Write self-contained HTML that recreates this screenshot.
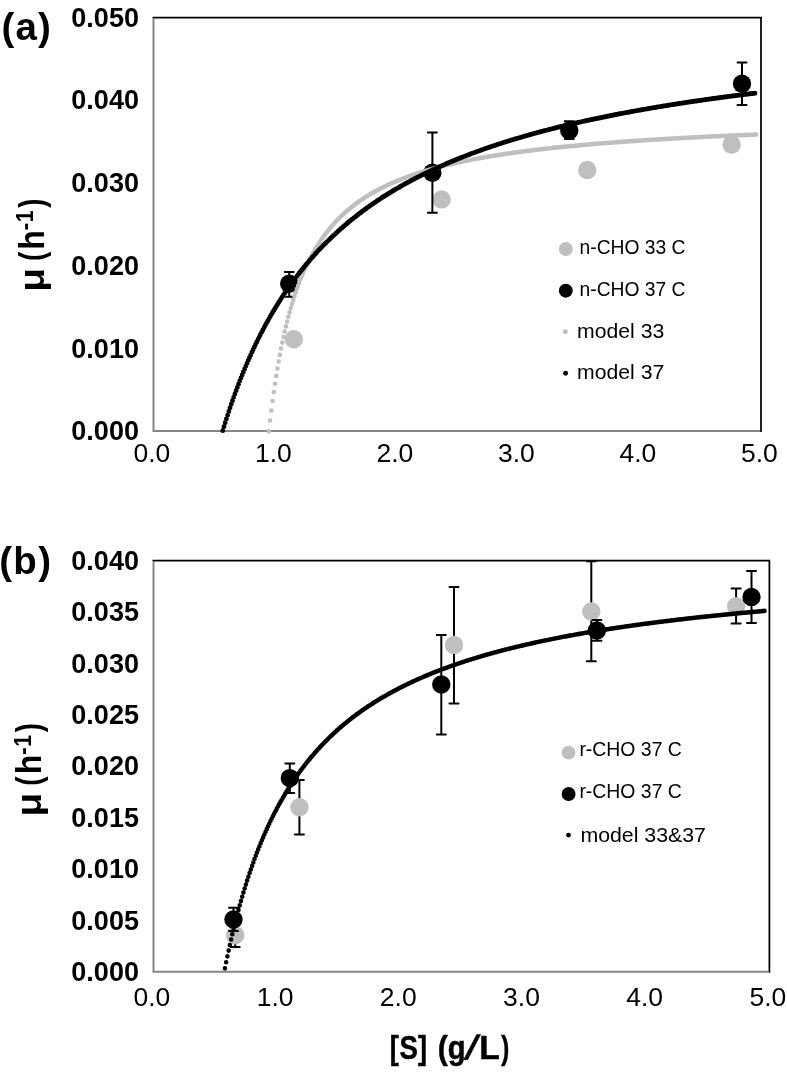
<!DOCTYPE html><html><head><meta charset="utf-8"><title>Growth rate vs substrate</title><style>html,body{margin:0;padding:0;background:#fff;}body{width:787px;height:1072px;overflow:hidden;}svg{display:block;will-change:transform;font-family:"Liberation Sans", sans-serif;}text{fill:#000;}</style></head><body><svg width="787" height="1072" viewBox="0 0 787 1072"><text transform="translate(139.00 440.21) scale(1.0100 1)" font-size="26.80" font-weight="bold" text-anchor="end">0.000</text><text transform="translate(139.00 357.51) scale(1.0100 1)" font-size="26.80" font-weight="bold" text-anchor="end">0.010</text><text transform="translate(139.00 274.81) scale(1.0100 1)" font-size="26.80" font-weight="bold" text-anchor="end">0.020</text><text transform="translate(139.00 192.11) scale(1.0100 1)" font-size="26.80" font-weight="bold" text-anchor="end">0.030</text><text transform="translate(139.00 109.41) scale(1.0100 1)" font-size="26.80" font-weight="bold" text-anchor="end">0.040</text><text transform="translate(139.00 26.71) scale(1.0100 1)" font-size="26.80" font-weight="bold" text-anchor="end">0.050</text><text transform="translate(151.90 461.60) scale(1.0600 1)" font-size="25.00" text-anchor="middle">0.0</text><text transform="translate(273.40 461.60) scale(1.0600 1)" font-size="25.00" text-anchor="middle">1.0</text><text transform="translate(394.90 461.60) scale(1.0600 1)" font-size="25.00" text-anchor="middle">2.0</text><text transform="translate(516.40 461.60) scale(1.0600 1)" font-size="25.00" text-anchor="middle">3.0</text><text transform="translate(637.90 461.60) scale(1.0600 1)" font-size="25.00" text-anchor="middle">4.0</text><text transform="translate(759.40 461.60) scale(1.0600 1)" font-size="25.00" text-anchor="middle">5.0</text><text x="1.50" y="40.10" font-size="38.50" font-weight="bold" letter-spacing="1.10">(a)</text><circle cx="293.80" cy="339.20" r="9.2" fill="#bfbfbf"/><circle cx="441.60" cy="199.40" r="9.2" fill="#bfbfbf"/><circle cx="587.30" cy="169.90" r="9.2" fill="#bfbfbf"/><circle cx="731.60" cy="144.80" r="9.2" fill="#bfbfbf"/><path d="M289.20 272.10V296.70" stroke="#000" stroke-width="2" fill="none"/><path d="M284.70 272.10h9M284.70 296.70h9" stroke="#000" stroke-width="2" stroke-linecap="round" fill="none"/><circle cx="289.20" cy="283.80" r="9.2" fill="#000"/><path d="M432.40 132.60V212.80" stroke="#000" stroke-width="2" fill="none"/><path d="M427.90 132.60h9M427.90 212.80h9" stroke="#000" stroke-width="2" stroke-linecap="round" fill="none"/><circle cx="432.40" cy="172.70" r="9.2" fill="#000"/><path d="M569.30 121.30V139.10" stroke="#000" stroke-width="2" fill="none"/><path d="M564.80 121.30h9M564.80 139.10h9" stroke="#000" stroke-width="2" stroke-linecap="round" fill="none"/><circle cx="569.30" cy="130.50" r="9.2" fill="#000"/><path d="M742.00 62.60V105.00" stroke="#000" stroke-width="2" fill="none"/><path d="M737.50 62.60h9M737.50 105.00h9" stroke="#000" stroke-width="2" stroke-linecap="round" fill="none"/><circle cx="742.00" cy="83.70" r="9.2" fill="#000"/><path d="M152.50 17.50H761.00V431.90" fill="none" stroke="#000" stroke-width="1.75"/><path d="M153.50 18.30V431.00H760.10" fill="none" stroke="#858585" stroke-width="2"/><path d="M268.93 431.34h0M270.14 420.53h0M271.36 410.43h0M272.57 400.97h0M273.78 392.10h0M275.00 383.76h0M276.22 375.90h0M277.43 368.49h0M278.64 361.48h0M279.86 354.85h0M281.07 348.57h0M282.29 342.60h0M283.50 336.93h0M284.72 331.54h0M285.94 326.39h0M287.15 321.49h0M288.37 316.81h0M289.58 312.33h0M290.79 308.04h0M292.01 303.94h0M293.23 300.00h0M294.44 296.23h0M295.65 292.60h0M296.87 289.12h0M298.08 285.77h0M299.30 282.54h0M300.51 279.44h0M301.73 276.44h0M302.94 273.55h0M304.16 270.76h0M305.38 268.07h0M306.59 265.47h0M307.81 262.95h0M309.02 260.52h0M310.24 258.16h0M311.45 255.88h0M312.67 253.67h0M313.88 251.53h0M315.10 249.45h0M316.31 247.43h0M317.52 245.48h0M318.74 243.57h0M319.95 241.73h0M321.17 239.93h0M322.38 238.18h0M323.60 236.49h0M324.81 234.83h0M326.03 233.22h0M327.25 231.66h0M328.46 230.13h0M329.68 228.64h0M330.89 227.19h0M332.11 225.78h0M333.32 224.40h0M334.53 223.05h0M335.75 221.74h0M336.97 220.46h0M338.18 219.21h0M339.39 217.98h0M340.61 216.79h0M341.82 215.62h0M343.04 214.48h0M344.25 213.36h0M345.47 212.27h0M346.69 211.20h0M347.90 210.15h0M349.12 209.13h0M350.33 208.13h0M351.54 207.15h0M352.76 206.19h0M353.98 205.24h0M355.19 204.32h0M356.40 203.42h0M357.62 202.53h0M358.83 201.66h0M360.05 200.81h0M361.26 199.97h0M362.48 199.15h0M363.69 198.35h0M364.91 197.56h0M366.12 196.78h0M367.34 196.02h0M368.56 195.27h0M369.77 194.54h0M370.99 193.82h0M372.20 193.11h0M373.42 192.41h0M374.63 191.73h0M375.85 191.06h0M377.06 190.40h0M378.27 189.75h0M379.49 189.11h0M380.71 188.48h0M381.92 187.86h0M383.14 187.26h0M384.35 186.66h0M385.56 186.07h0M386.78 185.49h0M388.00 184.92h0M389.21 184.36h0M390.43 183.81h0M391.64 183.27h0M392.86 182.73h0M394.07 182.21h0M395.28 181.69h0M396.50 181.18h0M397.71 180.67h0M398.93 180.18h0M400.15 179.69h0M401.36 179.21h0M402.57 178.73h0M403.79 178.26h0M405.00 177.80h0M406.22 177.35h0M407.44 176.90h0M408.65 176.46h0M409.86 176.02h0M411.08 175.59h0M412.29 175.17h0M413.51 174.75h0M414.73 174.34h0M415.94 173.93h0M417.15 173.53h0M418.37 173.13h0M419.58 172.74h0M420.80 172.36h0M422.01 171.97h0M423.23 171.60h0M424.44 171.23h0M425.66 170.86h0M426.88 170.50h0M428.09 170.14h0M429.31 169.79h0M430.52 169.44h0M431.74 169.09h0M432.95 168.75h0M434.17 168.42h0M435.38 168.09h0M436.60 167.76h0M437.81 167.43h0M439.02 167.11h0M440.24 166.80h0M441.46 166.48h0M442.67 166.18h0M443.88 165.87h0M445.10 165.57h0M446.31 165.27h0M447.53 164.97h0M448.75 164.68h0M449.96 164.39h0M451.18 164.11h0M452.39 163.83h0M453.60 163.55h0M454.82 163.27h0M456.04 163.00h0M457.25 162.73h0M458.46 162.46h0M459.68 162.20h0M460.90 161.94h0M462.11 161.68h0M463.32 161.42h0M464.54 161.17h0M465.75 160.92h0M466.97 160.67h0M468.19 160.43h0M469.40 160.19h0M470.62 159.95h0M471.83 159.71h0M473.04 159.47h0M474.26 159.24h0M475.48 159.01h0M476.69 158.78h0M477.90 158.56h0M479.12 158.33h0M480.33 158.11h0M481.55 157.89h0M482.76 157.67h0M483.98 157.46h0M485.19 157.25h0M486.41 157.03h0M487.62 156.83h0M488.84 156.62h0M490.06 156.41h0M491.27 156.21h0M492.49 156.01h0M493.70 155.81h0M494.92 155.61h0M496.13 155.42h0M497.35 155.22h0M498.56 155.03h0M499.77 154.84h0M500.99 154.65h0M502.21 154.47h0M503.42 154.28h0M504.63 154.10h0M505.85 153.92h0M507.06 153.74h0M508.28 153.56h0M509.50 153.38h0M510.71 153.21h0M511.93 153.03h0M513.14 152.86h0M514.36 152.69h0M515.57 152.52h0M516.79 152.35h0M518.00 152.19h0M519.21 152.02h0M520.43 151.86h0M521.64 151.70h0M522.86 151.54h0M524.08 151.38h0M525.29 151.22h0M526.50 151.06h0M527.72 150.91h0M528.93 150.75h0M530.15 150.60h0M531.37 150.45h0M532.58 150.30h0M533.79 150.15h0M535.01 150.00h0M536.23 149.85h0M537.44 149.71h0M538.65 149.56h0M539.87 149.42h0M541.09 149.28h0M542.30 149.13h0M543.51 148.99h0M544.73 148.86h0M545.95 148.72h0M547.16 148.58h0M548.38 148.45h0M549.59 148.31h0M550.80 148.18h0M552.02 148.04h0M553.24 147.91h0M554.45 147.78h0M555.66 147.65h0M556.88 147.52h0M558.10 147.40h0M559.31 147.27h0M560.52 147.14h0M561.74 147.02h0M562.96 146.90h0M564.17 146.77h0M565.38 146.65h0M566.60 146.53h0M567.82 146.41h0M569.03 146.29h0M570.25 146.17h0M571.46 146.05h0M572.67 145.94h0M573.89 145.82h0M575.10 145.70h0M576.32 145.59h0M577.54 145.48h0M578.75 145.36h0M579.96 145.25h0M581.18 145.14h0M582.40 145.03h0M583.61 144.92h0M584.83 144.81h0M586.04 144.70h0M587.25 144.60h0M588.47 144.49h0M589.68 144.38h0M590.90 144.28h0M592.12 144.17h0M593.33 144.07h0M594.54 143.97h0M595.76 143.86h0M596.98 143.76h0M598.19 143.66h0M599.40 143.56h0M600.62 143.46h0M601.84 143.36h0M603.05 143.26h0M604.26 143.17h0M605.48 143.07h0M606.70 142.97h0M607.91 142.88h0M609.12 142.78h0M610.34 142.69h0M611.55 142.59h0M612.77 142.50h0M613.99 142.41h0M615.20 142.32h0M616.41 142.22h0M617.63 142.13h0M618.85 142.04h0M620.06 141.95h0M621.27 141.86h0M622.49 141.77h0M623.71 141.69h0M624.92 141.60h0M626.13 141.51h0M627.35 141.42h0M628.57 141.34h0M629.78 141.25h0M631.00 141.17h0M632.21 141.08h0M633.42 141.00h0M634.64 140.92h0M635.85 140.83h0M637.07 140.75h0M638.29 140.67h0M639.50 140.59h0M640.71 140.51h0M641.93 140.43h0M643.15 140.35h0M644.36 140.27h0M645.58 140.19h0M646.79 140.11h0M648.00 140.03h0M649.22 139.95h0M650.43 139.88h0M651.65 139.80h0M652.87 139.72h0M654.08 139.65h0M655.29 139.57h0M656.51 139.50h0M657.73 139.42h0M658.94 139.35h0M660.15 139.27h0M661.37 139.20h0M662.59 139.13h0M663.80 139.06h0M665.01 138.98h0M666.23 138.91h0M667.45 138.84h0M668.66 138.77h0M669.88 138.70h0M671.09 138.63h0M672.31 138.56h0M673.52 138.49h0M674.74 138.42h0M675.95 138.35h0M677.16 138.28h0M678.38 138.22h0M679.60 138.15h0M680.81 138.08h0M682.02 138.02h0M683.24 137.95h0M684.46 137.88h0M685.67 137.82h0M686.88 137.75h0M688.10 137.69h0M689.32 137.62h0M690.53 137.56h0M691.75 137.49h0M692.96 137.43h0M694.17 137.37h0M695.39 137.31h0M696.60 137.24h0M697.82 137.18h0M699.04 137.12h0M700.25 137.06h0M701.46 137.00h0M702.68 136.93h0M703.90 136.87h0M705.11 136.81h0M706.33 136.75h0M707.54 136.69h0M708.75 136.63h0M709.97 136.58h0M711.18 136.52h0M712.40 136.46h0M713.62 136.40h0M714.83 136.34h0M716.04 136.28h0M717.26 136.23h0M718.48 136.17h0M719.69 136.11h0M720.90 136.06h0M722.12 136.00h0M723.34 135.95h0M724.55 135.89h0M725.76 135.83h0M726.98 135.78h0M728.20 135.72h0M729.41 135.67h0M730.62 135.62h0M731.84 135.56h0M733.06 135.51h0M734.27 135.45h0M735.49 135.40h0M736.70 135.35h0M737.91 135.30h0M739.13 135.24h0M740.35 135.19h0M741.56 135.14h0M742.77 135.09h0M743.99 135.04h0M745.21 134.98h0M746.42 134.93h0M747.63 134.88h0M748.85 134.83h0M750.07 134.78h0M751.28 134.73h0M752.50 134.68h0M753.71 134.63h0M754.92 134.58h0M756.14 134.53h0" stroke="#bfbfbf" stroke-width="4.60" stroke-linecap="round" fill="none"/><path d="M222.75 430.64h0M223.97 426.66h0M225.19 422.75h0M226.40 418.92h0M227.62 415.16h0M228.83 411.47h0M230.04 407.85h0M231.26 404.29h0M232.47 400.79h0M233.69 397.36h0M234.91 393.99h0M236.12 390.67h0M237.33 387.42h0M238.55 384.22h0M239.76 381.07h0M240.98 377.97h0M242.19 374.93h0M243.41 371.94h0M244.62 369.00h0M245.84 366.10h0M247.06 363.25h0M248.27 360.45h0M249.48 357.69h0M250.70 354.98h0M251.91 352.30h0M253.13 349.67h0M254.34 347.08h0M255.56 344.53h0M256.77 342.02h0M257.99 339.54h0M259.20 337.11h0M260.42 334.71h0M261.63 332.34h0M262.85 330.01h0M264.06 327.71h0M265.28 325.45h0M266.50 323.21h0M267.71 321.01h0M268.93 318.84h0M270.14 316.70h0M271.36 314.60h0M272.57 312.52h0M273.78 310.46h0M275.00 308.44h0M276.22 306.44h0M277.43 304.47h0M278.64 302.53h0M279.86 300.61h0M281.07 298.72h0M282.29 296.85h0M283.50 295.01h0M284.72 293.19h0M285.94 291.39h0M287.15 289.62h0M288.37 287.87h0M289.58 286.14h0M290.79 284.43h0M292.01 282.75h0M293.23 281.08h0M294.44 279.44h0M295.65 277.81h0M296.87 276.21h0M298.08 274.62h0M299.30 273.05h0M300.51 271.51h0M301.73 269.98h0M302.94 268.47h0M304.16 266.97h0M305.38 265.49h0M306.59 264.04h0M307.81 262.59h0M309.02 261.17h0M310.24 259.76h0M311.45 258.36h0M312.67 256.98h0M313.88 255.62h0M315.10 254.27h0M316.31 252.94h0M317.52 251.62h0M318.74 250.32h0M319.96 249.03h0M321.17 247.75h0M322.38 246.49h0M323.60 245.24h0M324.81 244.01h0M326.03 242.78h0M327.25 241.58h0M328.46 240.38h0M329.68 239.19h0M330.89 238.02h0M332.11 236.86h0M333.32 235.71h0M334.53 234.58h0M335.75 233.45h0M336.97 232.34h0M338.18 231.24h0M339.39 230.15h0M340.61 229.07h0M341.82 228.00h0M343.04 226.94h0M344.25 225.89h0M345.47 224.85h0M346.69 223.82h0M347.90 222.81h0M349.12 221.80h0M350.33 220.80h0M351.54 219.81h0M352.76 218.83h0M353.98 217.86h0M355.19 216.90h0M356.40 215.94h0M357.62 215.00h0M358.83 214.07h0M360.05 213.14h0M361.26 212.22h0M362.48 211.31h0M363.69 210.41h0M364.91 209.52h0M366.12 208.63h0M367.34 207.76h0M368.56 206.89h0M369.77 206.02h0M370.99 205.17h0M372.20 204.32h0M373.42 203.49h0M374.63 202.65h0M375.85 201.83h0M377.06 201.01h0M378.27 200.20h0M379.49 199.40h0M380.71 198.60h0M381.92 197.81h0M383.14 197.03h0M384.35 196.25h0M385.56 195.48h0M386.78 194.72h0M388.00 193.96h0M389.21 193.21h0M390.43 192.47h0M391.64 191.73h0M392.86 191.00h0M394.07 190.27h0M395.28 189.55h0M396.50 188.84h0M397.71 188.13h0M398.93 187.43h0M400.14 186.73h0M401.36 186.04h0M402.57 185.35h0M403.79 184.67h0M405.00 183.99h0M406.22 183.32h0M407.44 182.66h0M408.65 182.00h0M409.86 181.34h0M411.08 180.69h0M412.29 180.05h0M413.51 179.41h0M414.73 178.77h0M415.94 178.14h0M417.15 177.52h0M418.37 176.90h0M419.58 176.28h0M420.80 175.67h0M422.01 175.06h0M423.23 174.46h0M424.44 173.86h0M425.66 173.27h0M426.88 172.68h0M428.09 172.10h0M429.31 171.52h0M430.52 170.94h0M431.74 170.37h0M432.95 169.80h0M434.17 169.24h0M435.38 168.68h0M436.60 168.12h0M437.81 167.57h0M439.02 167.02h0M440.24 166.48h0M441.46 165.94h0M442.67 165.40h0M443.89 164.87h0M445.10 164.34h0M446.31 163.81h0M447.53 163.29h0M448.75 162.77h0M449.96 162.26h0M451.18 161.75h0M452.39 161.24h0M453.61 160.74h0M454.82 160.24h0M456.03 159.74h0M457.25 159.25h0M458.46 158.76h0M459.68 158.27h0M460.89 157.78h0M462.11 157.30h0M463.32 156.83h0M464.54 156.35h0M465.75 155.88h0M466.97 155.41h0M468.19 154.95h0M469.40 154.49h0M470.61 154.03h0M471.83 153.57h0M473.04 153.12h0M474.26 152.67h0M475.48 152.22h0M476.69 151.77h0M477.90 151.33h0M479.12 150.89h0M480.33 150.46h0M481.55 150.02h0M482.76 149.59h0M483.98 149.17h0M485.19 148.74h0M486.41 148.32h0M487.62 147.90h0M488.84 147.48h0M490.06 147.07h0M491.27 146.65h0M492.49 146.24h0M493.70 145.84h0M494.92 145.43h0M496.13 145.03h0M497.35 144.63h0M498.56 144.23h0M499.77 143.84h0M500.99 143.44h0M502.21 143.05h0M503.42 142.67h0M504.63 142.28h0M505.85 141.90h0M507.06 141.52h0M508.28 141.14h0M509.50 140.76h0M510.71 140.39h0M511.92 140.01h0M513.14 139.64h0M514.36 139.28h0M515.57 138.91h0M516.78 138.55h0M518.00 138.19h0M519.21 137.83h0M520.43 137.47h0M521.64 137.11h0M522.86 136.76h0M524.08 136.41h0M525.29 136.06h0M526.50 135.71h0M527.72 135.37h0M528.93 135.02h0M530.15 134.68h0M531.37 134.34h0M532.58 134.00h0M533.79 133.67h0M535.01 133.33h0M536.23 133.00h0M537.44 132.67h0M538.65 132.34h0M539.87 132.02h0M541.09 131.69h0M542.30 131.37h0M543.51 131.05h0M544.73 130.73h0M545.94 130.41h0M547.16 130.09h0M548.38 129.78h0M549.59 129.47h0M550.81 129.15h0M552.02 128.85h0M553.24 128.54h0M554.45 128.23h0M555.66 127.93h0M556.88 127.62h0M558.10 127.32h0M559.31 127.02h0M560.52 126.72h0M561.74 126.43h0M562.96 126.13h0M564.17 125.84h0M565.38 125.55h0M566.60 125.26h0M567.81 124.97h0M569.03 124.68h0M570.25 124.39h0M571.46 124.11h0M572.67 123.83h0M573.89 123.54h0M575.10 123.26h0M576.32 122.98h0M577.53 122.71h0M578.75 122.43h0M579.96 122.16h0M581.18 121.88h0M582.39 121.61h0M583.61 121.34h0M584.83 121.07h0M586.04 120.80h0M587.25 120.54h0M588.47 120.27h0M589.68 120.01h0M590.90 119.74h0M592.12 119.48h0M593.33 119.22h0M594.54 118.96h0M595.76 118.71h0M596.98 118.45h0M598.19 118.19h0M599.40 117.94h0M600.62 117.69h0M601.84 117.44h0M603.05 117.19h0M604.26 116.94h0M605.48 116.69h0M606.69 116.44h0M607.91 116.20h0M609.12 115.95h0M610.34 115.71h0M611.56 115.47h0M612.77 115.23h0M613.99 114.99h0M615.20 114.75h0M616.41 114.51h0M617.63 114.28h0M618.85 114.04h0M620.06 113.81h0M621.27 113.57h0M622.49 113.34h0M623.71 113.11h0M624.92 112.88h0M626.13 112.65h0M627.35 112.42h0M628.56 112.20h0M629.78 111.97h0M631.00 111.75h0M632.21 111.52h0M633.42 111.30h0M634.64 111.08h0M635.85 110.86h0M637.07 110.64h0M638.28 110.42h0M639.50 110.20h0M640.71 109.98h0M641.93 109.77h0M643.15 109.55h0M644.36 109.34h0M645.58 109.13h0M646.79 108.91h0M648.00 108.70h0M649.22 108.49h0M650.43 108.28h0M651.65 108.08h0M652.87 107.87h0M654.08 107.66h0M655.29 107.46h0M656.51 107.25h0M657.73 107.05h0M658.94 106.85h0M660.15 106.64h0M661.37 106.44h0M662.59 106.24h0M663.80 106.04h0M665.01 105.84h0M666.23 105.65h0M667.45 105.45h0M668.66 105.25h0M669.88 105.06h0M671.09 104.86h0M672.31 104.67h0M673.52 104.48h0M674.74 104.29h0M675.95 104.09h0M677.17 103.90h0M678.38 103.71h0M679.60 103.53h0M680.81 103.34h0M682.03 103.15h0M683.24 102.96h0M684.46 102.78h0M685.67 102.59h0M686.88 102.41h0M688.10 102.23h0M689.32 102.04h0M690.53 101.86h0M691.75 101.68h0M692.96 101.50h0M694.17 101.32h0M695.39 101.14h0M696.60 100.96h0M697.82 100.79h0M699.04 100.61h0M700.25 100.43h0M701.46 100.26h0M702.68 100.08h0M703.90 99.91h0M705.11 99.74h0M706.33 99.56h0M707.54 99.39h0M708.75 99.22h0M709.97 99.05h0M711.19 98.88h0M712.40 98.71h0M713.62 98.54h0M714.83 98.37h0M716.05 98.21h0M717.26 98.04h0M718.48 97.87h0M719.69 97.71h0M720.90 97.54h0M722.12 97.38h0M723.34 97.22h0M724.55 97.05h0M725.76 96.89h0M726.98 96.73h0M728.20 96.57h0M729.41 96.41h0M730.62 96.25h0M731.84 96.09h0M733.06 95.93h0M734.27 95.77h0M735.49 95.62h0M736.70 95.46h0M737.92 95.31h0M739.13 95.15h0M740.35 94.99h0M741.56 94.84h0M742.78 94.69h0M743.99 94.53h0M745.21 94.38h0M746.42 94.23h0M747.63 94.08h0M748.85 93.93h0M750.07 93.78h0M751.28 93.63h0M752.50 93.48h0M753.71 93.33h0M754.92 93.18h0" stroke="#000" stroke-width="4.90" stroke-linecap="round" fill="none"/><circle cx="565.80" cy="249.00" r="6.95" fill="#bfbfbf"/><text transform="translate(579.52 254.10) scale(0.9400 1)" font-size="20.50">n-CHO 33 C</text><circle cx="565.80" cy="290.70" r="6.95" fill="#000"/><text transform="translate(579.52 295.60) scale(0.9400 1)" font-size="20.50">n-CHO 37 C</text><circle cx="565.40" cy="331.80" r="2.45" fill="#bfbfbf"/><text transform="translate(576.99 338.00) scale(1.0350 1)" font-size="20.50">model 33</text><circle cx="565.60" cy="373.20" r="2.45" fill="#000"/><text transform="translate(576.99 379.00) scale(1.0350 1)" font-size="20.50">model 37</text><text transform="translate(139.00 981.01) scale(1.0100 1)" font-size="26.80" font-weight="bold" text-anchor="end">0.000</text><text transform="translate(139.00 929.61) scale(1.0100 1)" font-size="26.80" font-weight="bold" text-anchor="end">0.005</text><text transform="translate(139.00 878.21) scale(1.0100 1)" font-size="26.80" font-weight="bold" text-anchor="end">0.010</text><text transform="translate(139.00 826.81) scale(1.0100 1)" font-size="26.80" font-weight="bold" text-anchor="end">0.015</text><text transform="translate(139.00 775.41) scale(1.0100 1)" font-size="26.80" font-weight="bold" text-anchor="end">0.020</text><text transform="translate(139.00 724.01) scale(1.0100 1)" font-size="26.80" font-weight="bold" text-anchor="end">0.025</text><text transform="translate(139.00 672.61) scale(1.0100 1)" font-size="26.80" font-weight="bold" text-anchor="end">0.030</text><text transform="translate(139.00 621.21) scale(1.0100 1)" font-size="26.80" font-weight="bold" text-anchor="end">0.035</text><text transform="translate(139.00 569.81) scale(1.0100 1)" font-size="26.80" font-weight="bold" text-anchor="end">0.040</text><text transform="translate(151.90 1005.80) scale(1.0600 1)" font-size="25.00" text-anchor="middle">0.0</text><text transform="translate(275.08 1005.80) scale(1.0600 1)" font-size="25.00" text-anchor="middle">1.0</text><text transform="translate(398.26 1005.80) scale(1.0600 1)" font-size="25.00" text-anchor="middle">2.0</text><text transform="translate(521.44 1005.80) scale(1.0600 1)" font-size="25.00" text-anchor="middle">3.0</text><text transform="translate(644.62 1005.80) scale(1.0600 1)" font-size="25.00" text-anchor="middle">4.0</text><text transform="translate(767.80 1005.80) scale(1.0600 1)" font-size="25.00" text-anchor="middle">5.0</text><text x="-0.80" y="574.20" font-size="38.50" font-weight="bold" letter-spacing="1.30">(b)</text><path d="M235.20 923.60V947.00" stroke="#000" stroke-width="2" fill="none"/><path d="M230.70 923.60h9M230.70 947.00h9" stroke="#000" stroke-width="2" stroke-linecap="round" fill="none"/><circle cx="235.20" cy="935.30" r="9.2" fill="#bfbfbf"/><path d="M299.40 779.90V834.50" stroke="#000" stroke-width="2" fill="none"/><path d="M294.90 779.90h9M294.90 834.50h9" stroke="#000" stroke-width="2" stroke-linecap="round" fill="none"/><circle cx="299.40" cy="807.30" r="9.2" fill="#bfbfbf"/><path d="M454.00 587.00V703.60" stroke="#000" stroke-width="2" fill="none"/><path d="M449.50 587.00h9M449.50 703.60h9" stroke="#000" stroke-width="2" stroke-linecap="round" fill="none"/><circle cx="454.00" cy="644.90" r="9.2" fill="#bfbfbf"/><path d="M591.30 561.20V661.20" stroke="#000" stroke-width="2" fill="none"/><path d="M586.80 561.20h9M586.80 661.20h9" stroke="#000" stroke-width="2" stroke-linecap="round" fill="none"/><circle cx="591.30" cy="611.50" r="9.2" fill="#bfbfbf"/><path d="M736.10 588.50V623.50" stroke="#000" stroke-width="2" fill="none"/><path d="M731.60 588.50h9M731.60 623.50h9" stroke="#000" stroke-width="2" stroke-linecap="round" fill="none"/><circle cx="736.10" cy="606.20" r="9.2" fill="#bfbfbf"/><path d="M233.50 907.80V931.10" stroke="#000" stroke-width="2" fill="none"/><path d="M229.00 907.80h9M229.00 931.10h9" stroke="#000" stroke-width="2" stroke-linecap="round" fill="none"/><circle cx="233.50" cy="919.40" r="9.2" fill="#000"/><path d="M289.80 763.40V792.90" stroke="#000" stroke-width="2" fill="none"/><path d="M285.30 763.40h9M285.30 792.90h9" stroke="#000" stroke-width="2" stroke-linecap="round" fill="none"/><circle cx="289.80" cy="778.10" r="9.2" fill="#000"/><path d="M441.30 634.90V734.50" stroke="#000" stroke-width="2" fill="none"/><path d="M436.80 634.90h9M436.80 734.50h9" stroke="#000" stroke-width="2" stroke-linecap="round" fill="none"/><circle cx="441.30" cy="684.50" r="9.2" fill="#000"/><path d="M596.90 619.90V640.80" stroke="#000" stroke-width="2" fill="none"/><path d="M592.40 619.90h9M592.40 640.80h9" stroke="#000" stroke-width="2" stroke-linecap="round" fill="none"/><circle cx="596.90" cy="630.50" r="9.2" fill="#000"/><path d="M751.50 570.90V622.90" stroke="#000" stroke-width="2" fill="none"/><path d="M747.00 570.90h9M747.00 622.90h9" stroke="#000" stroke-width="2" stroke-linecap="round" fill="none"/><circle cx="751.50" cy="596.90" r="9.2" fill="#000"/><path d="M152.50 560.60H769.40V972.70" fill="none" stroke="#000" stroke-width="1.75"/><path d="M153.50 561.40V971.80H768.50" fill="none" stroke="#858585" stroke-width="2"/><path d="M224.94 968.36h0M226.18 962.26h0M227.41 956.33h0M228.64 950.58h0M229.87 944.99h0M231.10 939.55h0M232.34 934.27h0M233.57 929.12h0M234.80 924.12h0M236.03 919.25h0M237.26 914.51h0M238.49 909.89h0M239.73 905.39h0M240.96 901.00h0M242.19 896.72h0M243.42 892.54h0M244.65 888.47h0M245.88 884.49h0M247.12 880.61h0M248.35 876.82h0M249.58 873.11h0M250.81 869.50h0M252.04 865.96h0M253.28 862.50h0M254.51 859.12h0M255.74 855.81h0M256.97 852.58h0M258.20 849.41h0M259.43 846.31h0M260.67 843.28h0M261.90 840.30h0M263.13 837.39h0M264.36 834.54h0M265.59 831.75h0M266.83 829.01h0M268.06 826.32h0M269.29 823.69h0M270.52 821.11h0M271.75 818.58h0M272.98 816.10h0M274.22 813.66h0M275.45 811.27h0M276.68 808.92h0M277.91 806.61h0M279.14 804.35h0M280.38 802.13h0M281.61 799.95h0M282.84 797.80h0M284.07 795.70h0M285.30 793.62h0M286.53 791.59h0M287.77 789.59h0M289.00 787.62h0M290.23 785.69h0M291.46 783.79h0M292.69 781.92h0M293.93 780.08h0M295.16 778.27h0M296.39 776.49h0M297.62 774.74h0M298.85 773.01h0M300.08 771.32h0M301.32 769.64h0M302.55 768.00h0M303.78 766.38h0M305.01 764.78h0M306.24 763.21h0M307.48 761.66h0M308.71 760.14h0M309.94 758.64h0M311.17 757.16h0M312.40 755.70h0M313.63 754.26h0M314.87 752.85h0M316.10 751.45h0M317.33 750.07h0M318.56 748.71h0M319.79 747.38h0M321.02 746.06h0M322.26 744.75h0M323.49 743.47h0M324.72 742.20h0M325.95 740.95h0M327.18 739.72h0M328.42 738.50h0M329.65 737.30h0M330.88 736.12h0M332.11 734.95h0M333.34 733.79h0M334.57 732.65h0M335.81 731.53h0M337.04 730.42h0M338.27 729.32h0M339.50 728.24h0M340.73 727.17h0M341.97 726.11h0M343.20 725.07h0M344.43 724.04h0M345.66 723.02h0M346.89 722.02h0M348.12 721.03h0M349.36 720.04h0M350.59 719.07h0M351.82 718.12h0M353.05 717.17h0M354.28 716.23h0M355.52 715.31h0M356.75 714.39h0M357.98 713.49h0M359.21 712.60h0M360.44 711.71h0M361.67 710.84h0M362.91 709.97h0M364.14 709.12h0M365.37 708.28h0M366.60 707.44h0M367.83 706.61h0M369.06 705.80h0M370.30 704.99h0M371.53 704.19h0M372.76 703.40h0M373.99 702.61h0M375.22 701.84h0M376.46 701.07h0M377.69 700.32h0M378.92 699.57h0M380.15 698.82h0M381.38 698.09h0M382.61 697.36h0M383.85 696.64h0M385.08 695.93h0M386.31 695.22h0M387.54 694.53h0M388.77 693.83h0M390.01 693.15h0M391.24 692.47h0M392.47 691.80h0M393.70 691.14h0M394.93 690.48h0M396.16 689.83h0M397.40 689.18h0M398.63 688.55h0M399.86 687.91h0M401.09 687.29h0M402.32 686.67h0M403.56 686.05h0M404.79 685.44h0M406.02 684.84h0M407.25 684.24h0M408.48 683.65h0M409.71 683.06h0M410.95 682.48h0M412.18 681.91h0M413.41 681.34h0M414.64 680.77h0M415.87 680.21h0M417.11 679.65h0M418.34 679.10h0M419.57 678.56h0M420.80 678.02h0M422.03 677.48h0M423.26 676.95h0M424.50 676.42h0M425.73 675.90h0M426.96 675.39h0M428.19 674.87h0M429.42 674.36h0M430.65 673.86h0M431.89 673.36h0M433.12 672.86h0M434.35 672.37h0M435.58 671.89h0M436.81 671.40h0M438.05 670.92h0M439.28 670.45h0M440.51 669.98h0M441.74 669.51h0M442.97 669.05h0M444.20 668.59h0M445.44 668.13h0M446.67 667.68h0M447.90 667.23h0M449.13 666.79h0M450.36 666.34h0M451.60 665.91h0M452.83 665.47h0M454.06 665.04h0M455.29 664.61h0M456.52 664.19h0M457.75 663.77h0M458.99 663.35h0M460.22 662.94h0M461.45 662.53h0M462.68 662.12h0M463.91 661.71h0M465.15 661.31h0M466.38 660.91h0M467.61 660.52h0M468.84 660.12h0M470.07 659.74h0M471.30 659.35h0M472.54 658.96h0M473.77 658.58h0M475.00 658.21h0M476.23 657.83h0M477.46 657.46h0M478.70 657.09h0M479.93 656.72h0M481.16 656.36h0M482.39 655.99h0M483.62 655.64h0M484.85 655.28h0M486.09 654.92h0M487.32 654.57h0M488.55 654.22h0M489.78 653.88h0M491.01 653.53h0M492.25 653.19h0M493.48 652.85h0M494.71 652.52h0M495.94 652.18h0M497.17 651.85h0M498.40 651.52h0M499.64 651.19h0M500.87 650.87h0M502.10 650.54h0M503.33 650.22h0M504.56 649.90h0M505.79 649.59h0M507.03 649.27h0M508.26 648.96h0M509.49 648.65h0M510.72 648.34h0M511.95 648.04h0M513.19 647.73h0M514.42 647.43h0M515.65 647.13h0M516.88 646.83h0M518.11 646.54h0M519.34 646.24h0M520.58 645.95h0M521.81 645.66h0M523.04 645.37h0M524.27 645.08h0M525.50 644.80h0M526.74 644.52h0M527.97 644.23h0M529.20 643.96h0M530.43 643.68h0M531.66 643.40h0M532.89 643.13h0M534.13 642.86h0M535.36 642.59h0M536.59 642.32h0M537.82 642.05h0M539.05 641.78h0M540.29 641.52h0M541.52 641.26h0M542.75 641.00h0M543.98 640.74h0M545.21 640.48h0M546.44 640.22h0M547.68 639.97h0M548.91 639.72h0M550.14 639.47h0M551.37 639.22h0M552.60 638.97h0M553.84 638.72h0M555.07 638.48h0M556.30 638.23h0M557.53 637.99h0M558.76 637.75h0M559.99 637.51h0M561.23 637.27h0M562.46 637.03h0M563.69 636.80h0M564.92 636.57h0M566.15 636.33h0M567.38 636.10h0M568.62 635.87h0M569.85 635.64h0M571.08 635.42h0M572.31 635.19h0M573.54 634.97h0M574.78 634.74h0M576.01 634.52h0M577.24 634.30h0M578.47 634.08h0M579.70 633.86h0M580.93 633.64h0M582.17 633.43h0M583.40 633.21h0M584.63 633.00h0M585.86 632.79h0M587.09 632.58h0M588.33 632.37h0M589.56 632.16h0M590.79 631.95h0M592.02 631.74h0M593.25 631.54h0M594.48 631.33h0M595.72 631.13h0M596.95 630.93h0M598.18 630.73h0M599.41 630.53h0M600.64 630.33h0M601.88 630.13h0M603.11 629.94h0M604.34 629.74h0M605.57 629.55h0M606.80 629.35h0M608.03 629.16h0M609.27 628.97h0M610.50 628.78h0M611.73 628.59h0M612.96 628.40h0M614.19 628.21h0M615.42 628.03h0M616.66 627.84h0M617.89 627.65h0M619.12 627.47h0M620.35 627.29h0M621.58 627.11h0M622.82 626.93h0M624.05 626.75h0M625.28 626.57h0M626.51 626.39h0M627.74 626.21h0M628.97 626.04h0M630.21 625.86h0M631.44 625.69h0M632.67 625.51h0M633.90 625.34h0M635.13 625.17h0M636.37 625.00h0M637.60 624.83h0M638.83 624.66h0M640.06 624.49h0M641.29 624.32h0M642.52 624.15h0M643.76 623.99h0M644.99 623.82h0M646.22 623.66h0M647.45 623.50h0M648.68 623.33h0M649.92 623.17h0M651.15 623.01h0M652.38 622.85h0M653.61 622.69h0M654.84 622.53h0M656.07 622.37h0M657.31 622.22h0M658.54 622.06h0M659.77 621.90h0M661.00 621.75h0M662.23 621.59h0M663.47 621.44h0M664.70 621.29h0M665.93 621.13h0M667.16 620.98h0M668.39 620.83h0M669.62 620.68h0M670.86 620.53h0M672.09 620.38h0M673.32 620.24h0M674.55 620.09h0M675.78 619.94h0M677.01 619.80h0M678.25 619.65h0M679.48 619.51h0M680.71 619.36h0M681.94 619.22h0M683.17 619.08h0M684.41 618.93h0M685.64 618.79h0M686.87 618.65h0M688.10 618.51h0M689.33 618.37h0M690.56 618.23h0M691.80 618.10h0M693.03 617.96h0M694.26 617.82h0M695.49 617.69h0M696.72 617.55h0M697.96 617.42h0M699.19 617.28h0M700.42 617.15h0M701.65 617.01h0M702.88 616.88h0M704.11 616.75h0M705.35 616.62h0M706.58 616.49h0M707.81 616.36h0M709.04 616.23h0M710.27 616.10h0M711.51 615.97h0M712.74 615.84h0M713.97 615.71h0M715.20 615.58h0M716.43 615.46h0M717.66 615.33h0M718.90 615.21h0M720.13 615.08h0M721.36 614.96h0M722.59 614.83h0M723.82 614.71h0M725.06 614.59h0M726.29 614.47h0M727.52 614.34h0M728.75 614.22h0M729.98 614.10h0M731.21 613.98h0M732.45 613.86h0M733.68 613.74h0M734.91 613.62h0M736.14 613.51h0M737.37 613.39h0M738.61 613.27h0M739.84 613.15h0M741.07 613.04h0M742.30 612.92h0M743.53 612.81h0M744.76 612.69h0M746.00 612.58h0M747.23 612.46h0M748.46 612.35h0M749.69 612.24h0M750.92 612.12h0M752.15 612.01h0M753.39 611.90h0M754.62 611.79h0M755.85 611.68h0M757.08 611.57h0M758.31 611.46h0M759.55 611.35h0M760.78 611.24h0M762.01 611.13h0M763.24 611.02h0M764.47 610.91h0" stroke="#000" stroke-width="4.60" stroke-linecap="round" fill="none"/><circle cx="568.50" cy="752.60" r="6.95" fill="#bfbfbf"/><text transform="translate(579.41 756.00) scale(0.9470 1)" font-size="20.50">r-CHO 37 C</text><circle cx="568.60" cy="794.00" r="6.95" fill="#000"/><text transform="translate(579.41 798.20) scale(0.9470 1)" font-size="20.50">r-CHO 37 C</text><circle cx="568.50" cy="835.10" r="2.45" fill="#000"/><text transform="translate(580.38 841.70) scale(1.0400 1)" font-size="20.50">model 33&amp;37</text><g transform="translate(44.00 300.00) rotate(-90)" font-weight="bold"><text transform="translate(8.16 0) scale(1.128 1)" font-size="34.50">&#956;</text><text transform="translate(38.93 0) scale(0.8 1)" font-size="34.50">(</text><text transform="translate(50.26 0) scale(0.93 1)" font-size="34.50">h</text><text x="69.49" y="-10.7" font-size="23.25">-</text><text transform="translate(77.85 -10.7) scale(0.92 1)" font-size="23.25">1</text><text transform="translate(92.27 0) scale(0.8 1)" font-size="34.50">)</text></g><g transform="translate(41.40 824.60) rotate(-90)" font-weight="bold"><text transform="translate(8.16 0) scale(1.128 1)" font-size="34.50">&#956;</text><text transform="translate(38.93 0) scale(0.8 1)" font-size="34.50">(</text><text transform="translate(50.26 0) scale(0.93 1)" font-size="34.50">h</text><text x="69.49" y="-10.7" font-size="23.25">-</text><text transform="translate(77.85 -10.7) scale(0.92 1)" font-size="23.25">1</text><text transform="translate(92.27 0) scale(0.8 1)" font-size="34.50">)</text></g><g font-size="34.0" font-weight="bold" stroke="#000" stroke-width="0.5"><text transform="translate(389.87 1059.3) scale(0.8002 1)">[</text><text transform="translate(399.51 1059.3) scale(0.8100 1)">S</text><text transform="translate(418.07 1059.3) scale(0.8002 1)">]</text><text transform="translate(437.80 1059.3) scale(0.8858 1)">(</text><text transform="translate(447.80 1059.3) scale(0.8597 1)">g</text><text transform="translate(479.36 1059.3) scale(0.9858 1)">L</text><text transform="translate(501.28 1059.3) scale(0.7087 1)">)</text><text transform="translate(463.6 1059.3) skewX(-18)">/</text></g></svg></body></html>
